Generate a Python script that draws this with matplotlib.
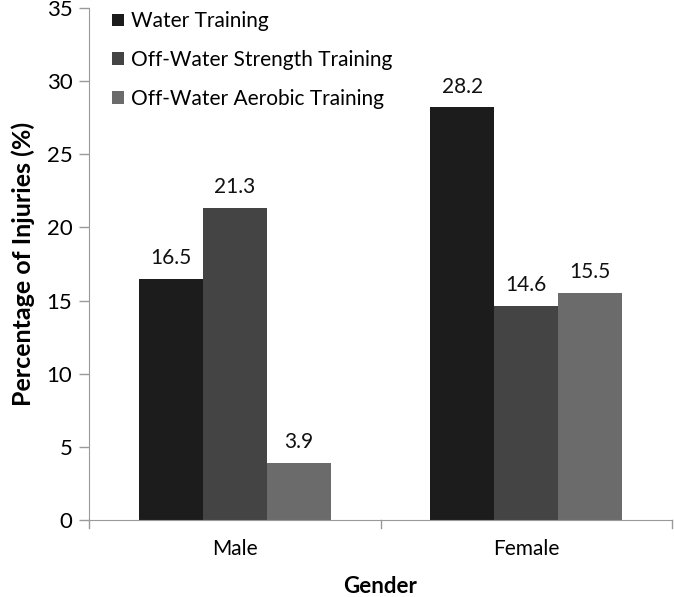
import matplotlib
matplotlib.use("Agg")
import matplotlib.pyplot as plt
import numpy as np

categories = ["Male", "Female"]
series_names = ["Water Training", "Off-Water Strength Training", "Off-Water Aerobic Training"]
water = [16.5, 28.2]
strength = [21.3, 14.6]
aerobic = [3.9, 15.5]
colors = ["#1c1c1c", "#444444", "#6b6b6b"]

plt.rcParams['font.family'] = ['Lato', 'DejaVu Sans']

fig = plt.figure(figsize=(6.74, 5.97), dpi=100)
ax = fig.add_axes([89/674, 77/597, (672-89)/674, (520-8)/597])

x = np.arange(len(categories))
w = 0.219
for i, (vals, name, c) in enumerate(zip([water, strength, aerobic], series_names, colors)):
    pos = x + (i - 1) * w
    ax.bar(pos, vals, w, color=c, label=name, linewidth=0)
    for p, v in zip(pos, vals):
        ax.text(p, v + 0.75, f"{v}", ha='center', va='bottom', fontsize=15, color='#111111')

ax.set_xlim(-0.5, 1.5)
ax.set_ylim(0, 35)
ax.set_yticks(range(0, 36, 5))
ax.set_xticks(x)
ax.set_xticklabels(categories, fontsize=15)
ax.tick_params(axis='y', labelsize=16, length=7, color='#999999', width=1, pad=5)
ax.tick_params(axis='x', length=0, pad=14)
for xb in [-0.5, 0.5, 1.5]:
    ax.plot([xb, xb], [0, -0.55], color='#999999', lw=1, clip_on=False)

for s in ['top', 'right']:
    ax.spines[s].set_visible(False)
ax.spines['left'].set_color('#999999')
ax.spines['bottom'].set_color('#999999')

ax.set_ylabel("Percentage of Injuries (%)", fontsize=18, fontweight='bold', labelpad=8)
ax.set_xlabel("Gender", fontsize=16, fontweight='bold', labelpad=12)

leg = ax.legend(loc='upper left', bbox_to_anchor=(0.008, 1.03), frameon=False, fontsize=15,
                handlelength=0.55, handleheight=0.55, handletextpad=0.35, labelspacing=0.9)

fig.savefig("out.png", dpi=100)
